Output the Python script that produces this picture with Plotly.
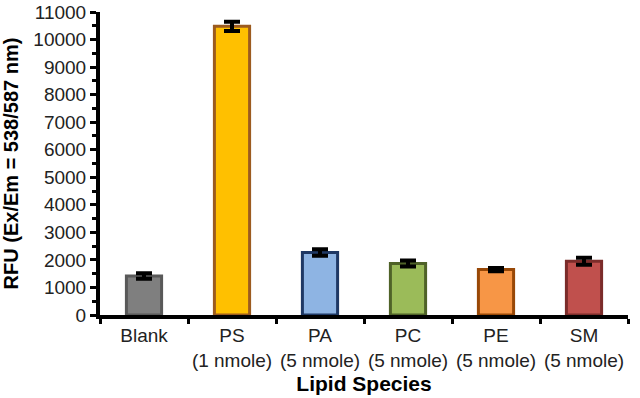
import plotly.graph_objects as go

categories = ["Blank", "PS<br>(1 nmole)", "PA<br>(5 nmole)", "PC<br>(5 nmole)", "PE<br>(5 nmole)", "SM<br>(5 nmole)"]
values = [1420, 10480, 2270, 1870, 1650, 1950]
errors = [100, 170, 120, 110, 60, 130]
fill_colors = ["#7F7F7F", "#FFC000", "#8EB4E3", "#9BBB59", "#F79646", "#C0504D"]
edge_colors = ["#595959", "#9C5B1F", "#1F3864", "#4F6228", "#984807", "#7B2C2A"]
y_ticks = list(range(0, 11001, 1000))
y_tick_labels = [str(v) for v in y_ticks]

font_family = "Liberation Sans, Arial, sans-serif"

fig = go.Figure(
    go.Bar(
        x=categories,
        y=values,
        width=0.4,
        marker=dict(color=fill_colors, line=dict(color=edge_colors, width=3)),
        error_y=dict(type="data", array=errors, visible=True, color="black", thickness=4, width=8),
    )
)

fig.update_layout(
    width=640,
    height=398,
    margin=dict(l=100, r=12, t=12, b=83),
    plot_bgcolor="white",
    paper_bgcolor="white",
    showlegend=False,
    font=dict(family=font_family, size=19, color="#222222"),
)

fig.update_xaxes(
    type="category",
    tickson="boundaries",
    tickangle=0,
    ticks="outside",
    ticklen=5,
    tickwidth=3,
    tickcolor="black",
    showline=True,
    linecolor="black",
    linewidth=4,
    showgrid=False,
    automargin=False,
    tickfont=dict(size=19, family=font_family, color="#222222"),
    title=dict(text="<b>Lipid Species</b>", font=dict(size=21, family=font_family, color="black"), standoff=8),
)

fig.update_yaxes(
    range=[0, 11000],
    tickvals=y_ticks,
    ticktext=y_tick_labels,
    ticks="outside",
    ticklen=6,
    tickwidth=3,
    tickcolor="black",
    showline=True,
    linecolor="black",
    linewidth=4,
    showgrid=False,
    zeroline=False,
    automargin=False,
    minor=dict(dtick=500, ticks="outside", ticklen=4, tickwidth=3, tickcolor="black", showgrid=False),
    tickfont=dict(size=19, family=font_family, color="#222222"),
    title=dict(text="<b>RFU (Ex/Em = 538/587 nm)</b>", font=dict(size=20, family=font_family, color="black"), standoff=14),
)

fig.write_html(
    "out.html",
    config={"displayModeBar": False},
    post_script="document.body.style.margin='0';",
)
